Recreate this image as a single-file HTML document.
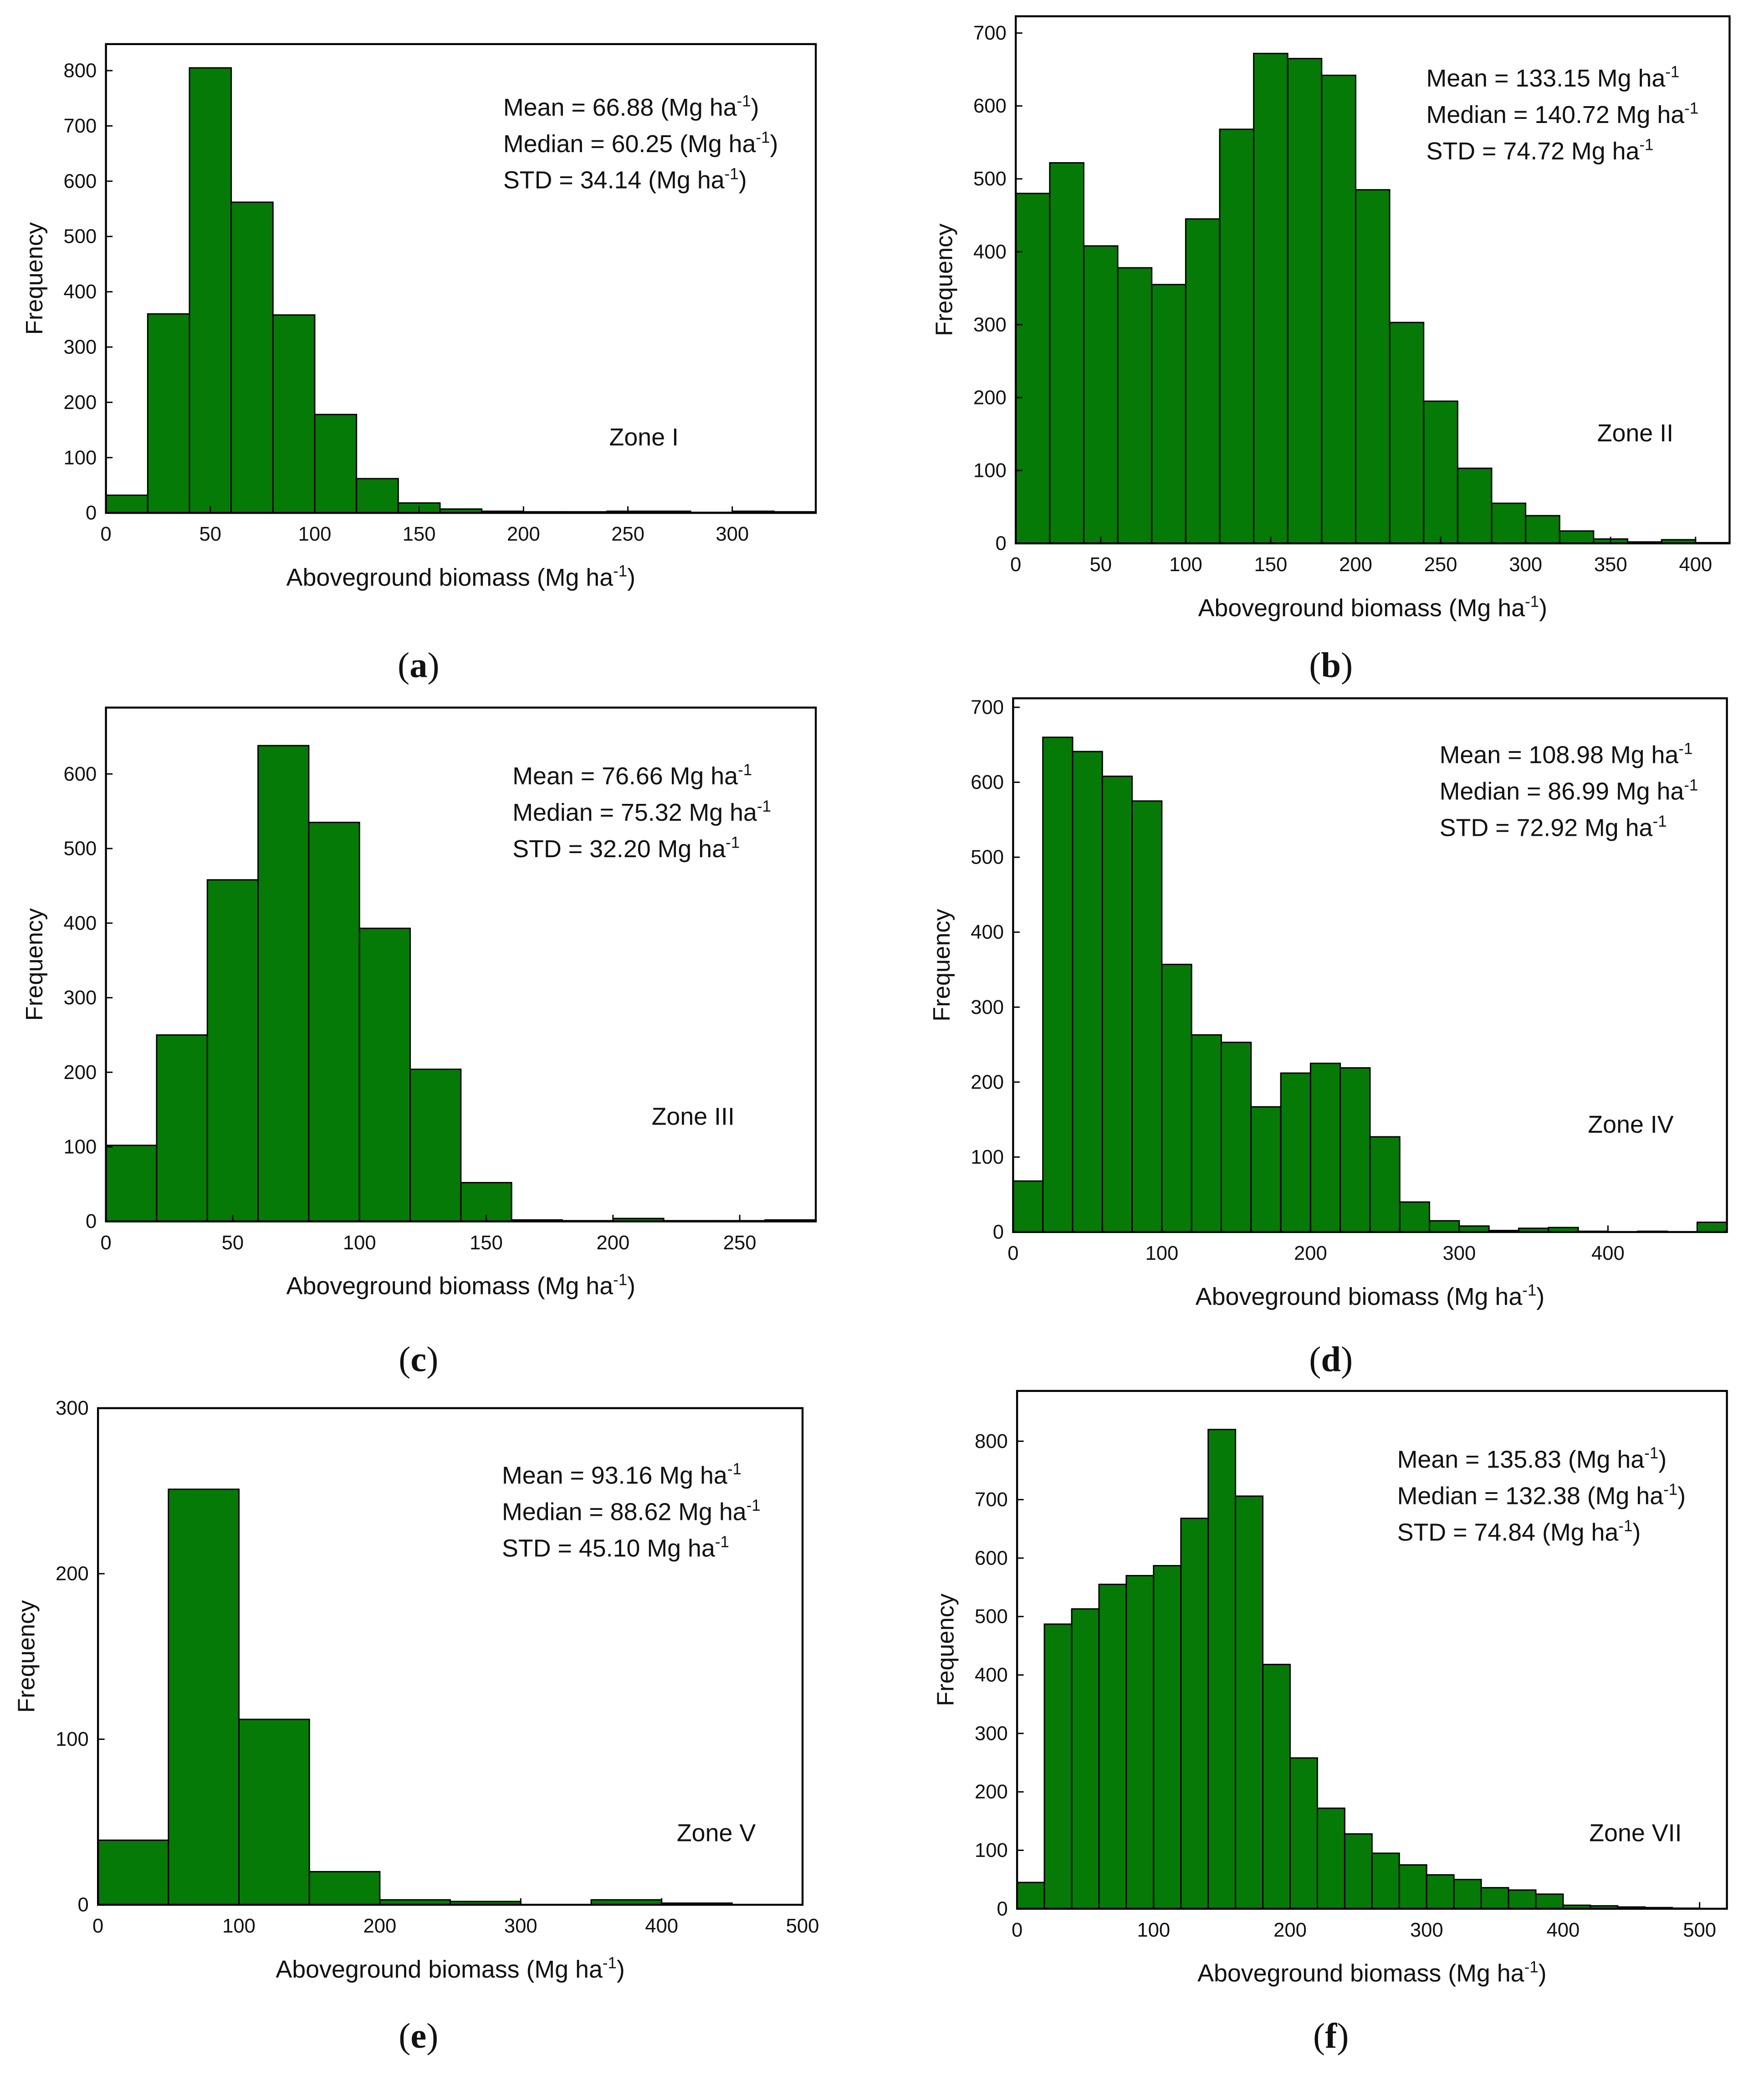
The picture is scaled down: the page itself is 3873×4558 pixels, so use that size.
<!DOCTYPE html>
<html><head><meta charset="utf-8"><style>
html,body{margin:0;padding:0;background:#fff;}
svg{display:block;}
text{font-family:"Liberation Sans",Arial,sans-serif;fill:#111;}
</style></head><body>
<svg id="fig" width="3873" height="4558" viewBox="0 0 1332 1567" xmlns="http://www.w3.org/2000/svg"></svg>
<script>
// Panel (a) Zone I
const aValues=[32,360,805,562,358,178,62,18,7,3,2,2,3,3,1,3,2];
const aYTicks=[0,100,200,300,400,500,600,700,800];
const aXTicks=[0,50,100,150,200,250,300];
// Panel (b) Zone II
const bValues=[480,522,408,378,355,445,568,672,665,642,485,303,195,103,55,38,17,6,2,5,1];
const bYTicks=[0,100,200,300,400,500,600,700];
const bXTicks=[0,50,100,150,200,250,300,350,400];
// Panel (c) Zone III
const cValues=[102,250,458,638,535,393,204,52,2,1,4,1,1,2];
const cYTicks=[0,100,200,300,400,500,600];
const cXTicks=[0,50,100,150,200,250];
// Panel (d) Zone IV
const dValues=[68,660,641,608,575,357,263,253,167,212,225,219,127,40,15,8,2,5,6,1,0,1,0,13];
const dYTicks=[0,100,200,300,400,500,600,700];
const dXTicks=[0,100,200,300,400];
// Panel (e) Zone V
const eValues=[39,251,112,20,3,2,0,3,1,0];
const eYTicks=[0,100,200,300];
const eXTicks=[0,100,200,300,400,500];
// Panel (f) Zone VII
const fValues=[45,487,513,555,570,587,668,820,706,418,258,172,128,95,75,58,50,36,32,25,6,5,3,2,1,0];
const fYTicks=[0,100,200,300,400,500,600,700,800];
const fXTicks=[0,100,200,300,400,500];

const NS="http://www.w3.org/2000/svg";
const svg=document.getElementById('fig');
function mk(tag,attrs,parent){const e=document.createElementNS(NS,tag);for(const k in attrs)e.setAttribute(k,attrs[k]);(parent||svg).appendChild(e);return e;}

function panel(cfg){
  const g=mk('g',{});
  
  
  const X=v=>cfg.x0+(v/cfg.xmax)*(cfg.x1-cfg.x0);
  const Y=v=>cfg.y1-(v/cfg.ymax)*(cfg.y1-cfg.y0);
  cfg.values.forEach((v,i)=>{
    const r=mk('rect',{x:X(i*cfg.bw),y:Y(v),width:X((i+1)*cfg.bw)-X(i*cfg.bw),height:Y(0)-Y(v),fill:'#067a06',stroke:'#000','stroke-width':1},g);
    
    
  });
  const f=mk('rect',{x:cfg.x0,y:cfg.y0,width:cfg.x1-cfg.x0,height:cfg.y1-cfg.y0,fill:'none',stroke:'#000','stroke-width':1.5},g);
  
  
  cfg.yt.forEach(t=>{
    mk('line',{x1:cfg.x0,x2:cfg.x0+5,y1:Y(t),y2:Y(t),stroke:'#000','stroke-width':1},g);
    const tx=mk('text',{x:cfg.x0-7,y:Y(t)+5,'font-size':15,'text-anchor':'end'},g);tx.textContent=t;
    
    
  });
  cfg.xt.forEach(t=>{
    mk('line',{x1:X(t),x2:X(t),y1:cfg.y1,y2:cfg.y1-5,stroke:'#000','stroke-width':1},g);
    const tx=mk('text',{x:X(t),y:cfg.y1+21,'font-size':15,'text-anchor':'middle'},g);tx.textContent=t;
    
    
  });
  const yl=mk('text',{x:0,y:0,'font-size':18,'text-anchor':'middle',transform:`translate(${cfg.x0-48},${(cfg.y0+cfg.y1)/2}) rotate(-90)`},g);
  yl.textContent='Frequency';
  
  
  const xl=mk('text',{x:(cfg.x0+cfg.x1)/2,y:cfg.y1+55,'font-size':18.5,'text-anchor':'middle'},g);
  xl.innerHTML='Aboveground biomass (Mg ha<tspan dy="-7" font-size="12">-1</tspan><tspan dy="7">)</tspan>';
  
  
  cfg.stats.forEach((s,i)=>{
    const t=mk('text',{x:cfg.sx,y:cfg.sy+i*27.5,'font-size':18.5},g);
    t.innerHTML=s[0]+'<tspan dy="-7" font-size="12">-1</tspan><tspan dy="7">'+s[1]+'</tspan>';
    
    
  });
  const z=mk('text',{x:cfg.zx,y:cfg.zy,'font-size':18.5},g);z.textContent=cfg.zone;
  
  
  const pl=mk('text',{x:cfg.px,y:cfg.py,'font-size':27,'text-anchor':'middle'},g);
  pl.innerHTML='(<tspan font-weight="bold">'+cfg.id+'</tspan>)';
  pl.style.fontFamily='"Liberation Serif",serif';
  
  
}

panel({id:'a',values:aValues,yt:aYTicks,xt:aXTicks,bw:20,xmax:340,ymax:848,x0:80,x1:616,y0:33,y1:387,
  stats:[['Mean = 66.88 (Mg ha',')'],['Median = 60.25 (Mg ha',')'],['STD = 34.14 (Mg ha',')']],sx:380,sy:87,zone:'Zone I',zx:460,zy:336,px:316,py:511});
panel({id:'b',values:bValues,yt:bYTicks,xt:bXTicks,bw:20,xmax:420,ymax:723,x0:767,x1:1306,y0:12,y1:410,
  stats:[['Mean = 133.15 Mg ha',''],['Median = 140.72 Mg ha',''],['STD = 74.72 Mg ha','']],sx:1077,sy:65,zone:'Zone II',zx:1206,zy:333,px:1005,py:511});
panel({id:'c',values:cValues,yt:cYTicks,xt:cXTicks,bw:20,xmax:280,ymax:689,x0:80,x1:616,y0:534,y1:922,
  stats:[['Mean = 76.66 Mg ha',''],['Median = 75.32 Mg ha',''],['STD = 32.20 Mg ha','']],sx:387,sy:592,zone:'Zone III',zx:492,zy:849,px:316,py:1035});
panel({id:'d',values:dValues,yt:dYTicks,xt:dXTicks,bw:20,xmax:480,ymax:712,x0:765,x1:1304,y0:527,y1:930,
  stats:[['Mean = 108.98 Mg ha',''],['Median = 86.99 Mg ha',''],['STD = 72.92 Mg ha','']],sx:1087,sy:576,zone:'Zone IV',zx:1199,zy:855,px:1005,py:1035});
panel({id:'e',values:eValues,yt:eYTicks,xt:eXTicks,bw:50,xmax:500,ymax:300,x0:74,x1:606,y0:1063,y1:1438,
  stats:[['Mean = 93.16 Mg ha',''],['Median = 88.62  Mg ha',''],['STD = 45.10  Mg ha','']],sx:379,sy:1120,zone:'Zone V',zx:511,zy:1390,px:316,py:1546});
panel({id:'f',values:fValues,yt:fYTicks,xt:fXTicks,bw:20,xmax:520,ymax:886,x0:768,x1:1304,y0:1050,y1:1441,
  stats:[['Mean = 135.83 (Mg ha',')'],['Median = 132.38 (Mg ha',')'],['STD = 74.84 (Mg ha',')']],sx:1055,sy:1108,zone:'Zone VII',zx:1200,zy:1390,px:1005,py:1546});
</script>
</body></html>
